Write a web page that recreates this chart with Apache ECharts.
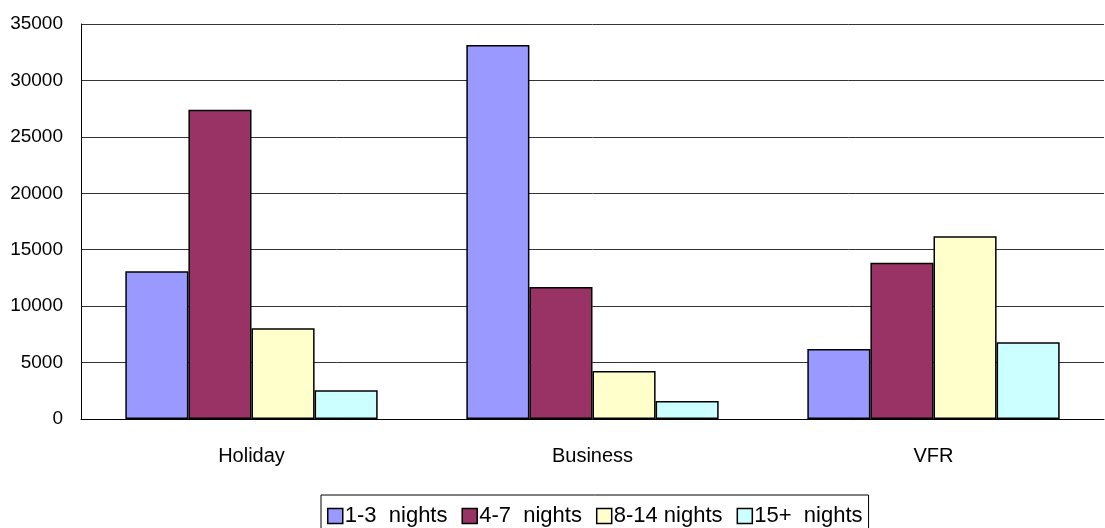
<html>
<head>
<meta charset="UTF-8">
<script src="https://cdn.jsdelivr.net/npm/echarts@6/dist/echarts.min.js"></script>
<style type="text/css">
body{margin:0;background:#fff;}
#chart{width:1105px;height:528px;}
</style>
</head>
<body>
<div id="chart"></div>
<script type="text/javascript">
var categories=["Holiday","Business","VFR"];
var nights13=[13100,33150,6200];//1-3 nights
var nights47=[27400,11700,13850];//4-7 nights
var nights814=[8050,4250,16200];//8-14 nights
var nights15=[2550,1600,6800];//15+ nights
var seriesNames=["1-3  nights","4-7  nights","8-14 nights","15+  nights"];
var colors=["#9999ff","#993366","#ffffcc","#ccffff"];
var yTicks={min:0,max:35000,interval:5000};

var font="'Liberation Sans',Arial,sans-serif";
var dom=document.getElementById("chart");
var myChart=echarts.init(dom);
var datas=[nights13,nights47,nights814,nights15];
var series=[];
for(var i=0;i<datas.length;i++){
	series.push({
		name:seriesNames[i],
		type:'bar',
		data:datas[i],
		barGap:'0%',
		barCategoryGap:'26%',
		itemStyle:{color:colors[i],borderColor:'#000',borderWidth:1.5}
	});
}
var option={
	animation:false,
	grid:{left:81,top:24,right:1,bottom:109},
	legend:{
		left:321,top:495,
		padding:[10,6,4,6],
		itemGap:14,
		itemWidth:15,itemHeight:15,
		icon:'rect',
		borderColor:'#000',borderWidth:1,
		textStyle:{fontFamily:font,fontSize:22,color:'#000',padding:[0,0,0,-3]},
		itemStyle:{borderColor:'#000',borderWidth:1.5},
		data:seriesNames
	},
	xAxis:{
		type:'category',
		data:categories,
		axisLine:{lineStyle:{color:'#000'}},
		axisTick:{show:false},
		axisLabel:{fontFamily:font,fontSize:20,color:'#000',margin:27}
	},
	yAxis:{
		type:'value',
		min:yTicks.min,max:yTicks.max,interval:yTicks.interval,
		axisLine:{show:true,lineStyle:{color:'#000'}},
		axisTick:{show:false},
		axisLabel:{fontFamily:font,fontSize:19,color:'#000',margin:18,formatter:function(v){return String(v);}},
		splitLine:{lineStyle:{color:'#333',width:1}}
	},
	series:series
};
myChart.setOption(option);
</script>
</body>
</html>
